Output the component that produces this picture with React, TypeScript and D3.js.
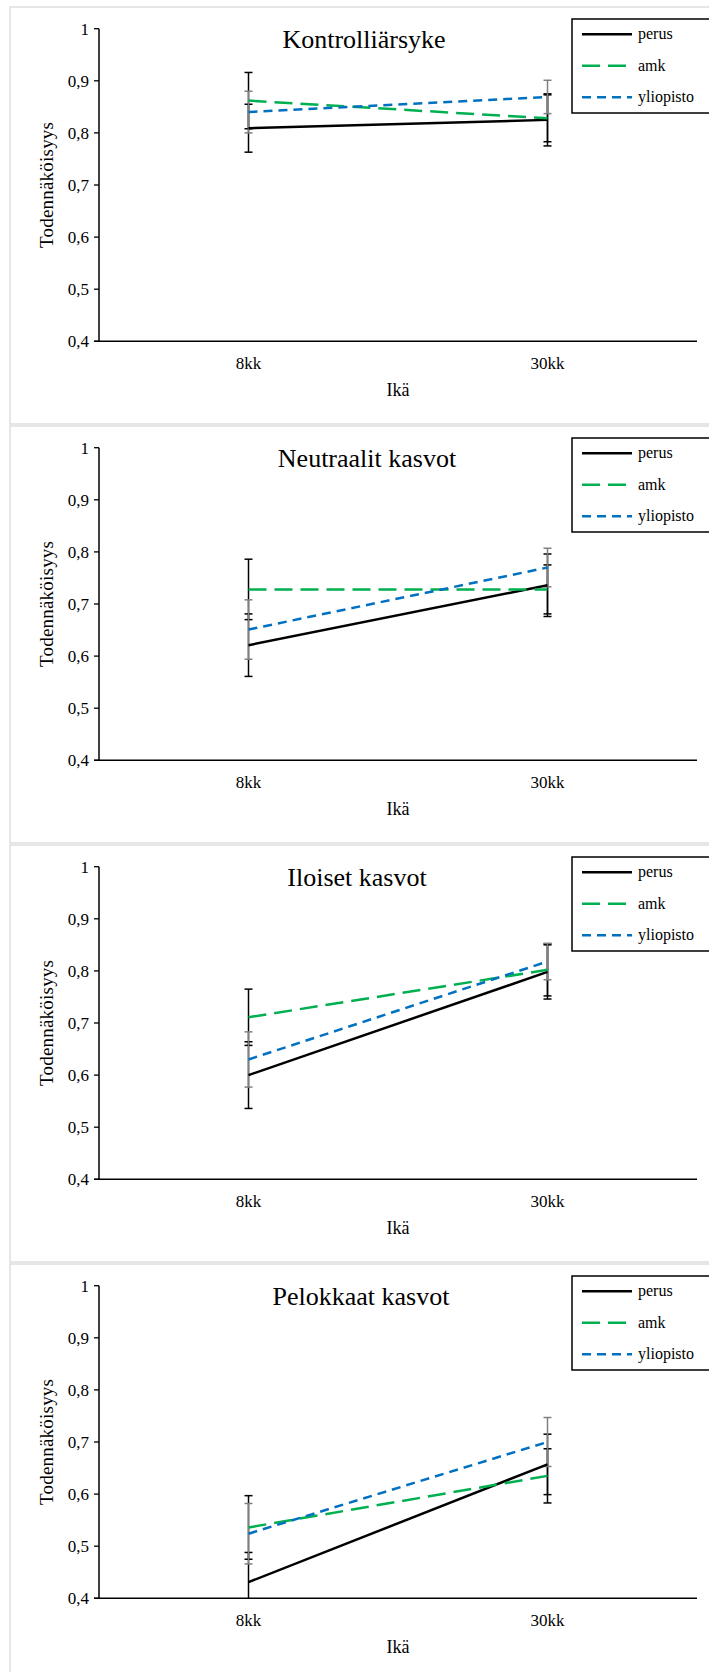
import React from 'react';
import * as d3 from 'd3';

const categories = ['8kk', '30kk'];
const seriesNames = ['perus', 'amk', 'yliopisto'];
const panelTitles = ['Kontrolliärsyke', 'Neutraalit kasvot', 'Iloiset kasvot', 'Pelokkaat kasvot'];
const yTicks = [0.4, 0.5, 0.6, 0.7, 0.8, 0.9, 1];

// one row per panel, one value per category
const perusValues = [[0.809, 0.825], [0.621, 0.736], [0.6, 0.798], [0.431, 0.657]];
const perusErrors = [[0.046, 0.05], [0.06, 0.06], [0.064, 0.052], [0.057, 0.058]];
const amkValues = [[0.862, 0.828], [0.728, 0.728], [0.711, 0.802], [0.536, 0.635]];
const amkErrors = [[0.054, 0.045], [0.058, 0.047], [0.054, 0.05], [0.061, 0.052]];
const yliopistoValues = [[0.84, 0.869], [0.651, 0.77], [0.63, 0.818], [0.524, 0.7]];
const yliopistoErrors = [[0.04, 0.032], [0.057, 0.037], [0.053, 0.035], [0.058, 0.047]];

const W = 709;
const H = 1672;
const panelStep = 419;
const titleCx = [364, 367, 357, 361];
const font = '"Liberation Serif", "Times New Roman", serif';

const styles = [
  { color: '#000000', dash: null, err: '#000000' },
  { color: '#00b050', dash: '18 8', err: '#000000' },
  { color: '#0070c0', dash: '9 6', err: '#808080' },
];

const fmt = (v: number) => (v === 1 ? '1' : v.toFixed(1).replace('.', ','));

const Panel = ({ index }: { index: number }) => {
  const top = index * panelStep;
  const x0 = 99;
  const x1 = 697;
  const y = d3.scaleLinear().domain([0.4, 1]).range([341.3, 28.7]);
  const x = d3.scalePoint<string>().domain(categories).range([x0, x1]).padding(0.5);
  const line = d3
    .line<number>()
    .x((_, i) => x(categories[i]) as number)
    .y((d) => y(d));

  const series = [
    { values: perusValues[index], errors: perusErrors[index] },
    { values: amkValues[index], errors: amkErrors[index] },
    { values: yliopistoValues[index], errors: yliopistoErrors[index] },
  ];

  return (
    <g transform={`translate(0,${top})`}>
      <rect x={10} y={7} width={720} height={417} fill="white" stroke="#d9d9d9" strokeWidth={1.3} />
      <text x={titleCx[index]} y={48} textAnchor="middle" fontSize={26} fontFamily={font}>
        {panelTitles[index]}
      </text>

      {yTicks.map((t) => (
        <g key={t}>
          <line x1={x0 - 5} x2={x0} y1={y(t)} y2={y(t)} stroke="#000" strokeWidth={1.3} />
          <text x={89} y={y(t) + 6} textAnchor="end" fontSize={17} fontFamily={font}>
            {fmt(t)}
          </text>
        </g>
      ))}
      <line x1={x0} x2={x0} y1={y(1)} y2={y(0.4)} stroke="#000" strokeWidth={1.5} />
      <line x1={x0 - 5} x2={x1} y1={y(0.4)} y2={y(0.4)} stroke="#000" strokeWidth={1.5} />
      {categories.map((c) => (
        <text key={c} x={x(c)} y={369} textAnchor="middle" fontSize={17} fontFamily={font}>
          {c}
        </text>
      ))}
      <text x={(x0 + x1) / 2} y={396} textAnchor="middle" fontSize={18} fontFamily={font}>
        Ikä
      </text>
      <text
        transform={`translate(53,${(y(1) + y(0.4)) / 2}) rotate(-90)`}
        textAnchor="middle"
        fontSize={19}
        fontFamily={font}
        textLength={126}
      >
        Todennäköisyys
      </text>

      {series.map((s, si) =>
        s.values.map((v, ci) => {
          const cx = x(categories[ci]) as number;
          const hi = v + s.errors[ci];
          const lo = v - s.errors[ci];
          const loC = Math.max(lo, 0.4);
          return (
            <g key={`${si}-${ci}`} stroke={styles[si].err} strokeWidth={1.5}>
              <line x1={cx} x2={cx} y1={y(hi)} y2={y(loC)} />
              <line x1={cx - 4} x2={cx + 4} y1={y(hi)} y2={y(hi)} />
              {lo >= 0.4 && <line x1={cx - 4} x2={cx + 4} y1={y(lo)} y2={y(lo)} />}
            </g>
          );
        })
      )}

      {series.map((s, si) => (
        <path
          key={si}
          d={line(s.values) || ''}
          fill="none"
          stroke={styles[si].color}
          strokeWidth={2.5}
          strokeDasharray={styles[si].dash || undefined}
        />
      ))}

      <rect x={572} y={19} width={150} height={94} fill="white" stroke="#000" strokeWidth={1.5} />
      {seriesNames.map((n, i) => {
        const ly = 34.3 + i * 31.5;
        return (
          <g key={n}>
            <line
              x1={582}
              x2={632}
              y1={ly}
              y2={ly}
              stroke={styles[i].color}
              strokeWidth={2.5}
              strokeDasharray={styles[i].dash || undefined}
            />
            <text x={638} y={ly + 5} fontSize={16} fontFamily={font}>
              {n}
            </text>
          </g>
        );
      })}
    </g>
  );
};

export default function App() {
  return (
    <svg
      width={W}
      height={H}
      style={{ position: 'absolute', left: 0, top: 0, background: 'white' }}
    >
      <rect width={W} height={H} fill="white" />
      {panelTitles.map((_, i) => (
        <Panel key={i} index={i} />
      ))}
    </svg>
  );
}
